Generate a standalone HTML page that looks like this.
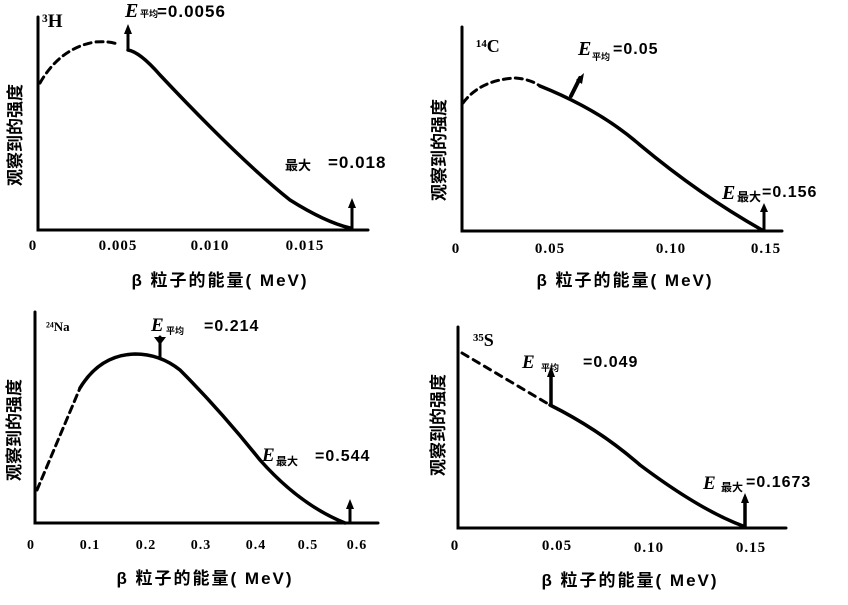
<!DOCTYPE html>
<html><head><meta charset="utf-8"><style>
html,body{margin:0;padding:0;background:#fff;}
svg{display:block}
text{font-family:"Liberation Serif","Noto Serif CJK SC",serif;font-weight:bold;fill:#000}
.c{font-family:"Liberation Sans","Noto Sans CJK SC",sans-serif;font-weight:bold}
.n{font-family:"Liberation Sans",sans-serif;font-weight:bold;letter-spacing:1px}
</style></head><body>
<svg width="848" height="605" viewBox="0 0 848 605" xmlns="http://www.w3.org/2000/svg">
<g fill="none" stroke="#000" stroke-linecap="round">
<path d="M38 17 V230 H368" stroke-width="3"/>
<path d="M40 83 Q60 48 95 42 Q110 41 117 44" stroke-width="3" stroke-dasharray="7,5"/>
<path d="M128 50 Q140 52 160 75 Q240 160 290 200 Q325 222 350 228" stroke-width="3.5"/>
<path d="M128 50 V30" stroke-width="3"/>
<path d="M352 228 V203" stroke-width="3"/>
<path d="M462 27 V231 H782" stroke-width="3"/>
<path d="M463 103 Q480 80 515 78 Q530 79 540 86" stroke-width="3" stroke-dasharray="7,5"/>
<path d="M540 86 Q600 110 640 145 Q700 195 762 230" stroke-width="3.5"/>
<path d="M571 96 L580 78" stroke-width="4"/>
<path d="M764 230 V208" stroke-width="3"/>
<path d="M35 312 V523 H378" stroke-width="3"/>
<path d="M37 490 L80 388" stroke-width="3" stroke-dasharray="7,5"/>
<path d="M80 388 Q100 355 135 354 Q160 354 180 370 Q220 410 260 460 Q300 505 345 523" stroke-width="3.5"/>
<path d="M160 358 V337" stroke-width="3"/>
<path d="M350 523 V505" stroke-width="3"/>
<path d="M458 327 V528 H786" stroke-width="3"/>
<path d="M462 353 L550 405" stroke-width="3" stroke-dasharray="7,6"/>
<path d="M550 405 Q600 430 640 465 Q700 510 743 526" stroke-width="3.5"/>
<path d="M551 405 V372" stroke-width="3.5"/>
<path d="M745 526 V498" stroke-width="3.5"/>
</g>
<g fill="#000">
<path d="M124 34 L128 24 L132 34Z"/><path d="M348 208 L352 198 L356 208Z"/>
<path d="M576 80 L584 73 L582 84Z"/><path d="M760 212 L764 203 L768 212Z"/>
<path d="M154 337 H166 L160 345Z"/><path d="M346 509 L350 499 L354 509Z"/>
<path d="M547 377 L551 366 L555 377Z"/><path d="M741 503 L745 493 L749 503Z"/>
</g>
<text x="42" y="27" font-size="19">³H</text>
<text x="125" y="17" font-size="20" font-style="italic">E</text><text x="140" y="17" font-size="9" class="c">平均</text><text x="157" y="17" font-size="17" class="n">=0.0056</text>
<text x="285" y="170" font-size="13" class="c">最大</text><text x="328" y="168" font-size="17" class="n">=0.018</text>
<g font-size="15" text-anchor="middle" class="n"><text x="33" y="250">0</text><text x="118" y="250">0.005</text><text x="210" y="250">0.010</text><text x="305" y="250">0.015</text></g>
<text x="220" y="286" font-size="17" text-anchor="middle" class="c" letter-spacing="2">β 粒子的能量(  MeV)</text>
<text font-size="17" class="c" transform="translate(21,135) rotate(-90)" text-anchor="middle">观察到的强度</text>
<text x="476" y="52" font-size="18">¹⁴C</text>
<text x="578" y="55" font-size="20" font-style="italic">E</text><text x="592" y="60" font-size="9" class="c">平均</text><text x="613" y="54" font-size="16" class="n">=0.05</text>
<text x="722" y="199" font-size="20" font-style="italic">E</text><text x="737" y="201" font-size="12" class="c">最大</text><text x="762" y="197" font-size="16" class="n">=0.156</text>
<g font-size="15" text-anchor="middle" class="n"><text x="456" y="253">0</text><text x="550" y="253">0.05</text><text x="671" y="253">0.10</text><text x="766" y="253">0.15</text></g>
<text x="625" y="286" font-size="17" text-anchor="middle" class="c" letter-spacing="2">β 粒子的能量(  MeV)</text>
<text font-size="17" class="c" transform="translate(445,150) rotate(-90)" text-anchor="middle">观察到的强度</text>
<text x="46" y="331" font-size="13">²⁴Na</text>
<text x="151" y="331" font-size="19" font-style="italic">E</text><text x="166" y="334" font-size="9" class="c">平均</text><text x="204" y="331" font-size="16" class="n">=0.214</text>
<text x="262" y="461" font-size="19" font-style="italic">E</text><text x="276" y="465" font-size="11" class="c">最大</text><text x="315" y="461" font-size="16" class="n">=0.544</text>
<g font-size="14" text-anchor="middle" class="n"><text x="31" y="549">0</text><text x="90" y="549">0.1</text><text x="146" y="549">0.2</text><text x="201" y="549">0.3</text><text x="256" y="549">0.4</text><text x="308" y="549">0.5</text><text x="357" y="549">0.6</text></g>
<text x="205" y="584" font-size="17" text-anchor="middle" class="c" letter-spacing="2">β 粒子的能量(  MeV)</text>
<text font-size="17" class="c" transform="translate(20,430) rotate(-90)" text-anchor="middle">观察到的强度</text>
<text x="473" y="346" font-size="18">³⁵S</text>
<text x="522" y="368" font-size="19" font-style="italic">E</text><text x="541" y="371" font-size="9" class="c">平均</text><text x="583" y="367" font-size="16" class="n">=0.049</text>
<text x="703" y="489" font-size="19" font-style="italic">E</text><text x="721" y="491" font-size="11" class="c">最大</text><text x="746" y="487" font-size="16" class="n">=0.1673</text>
<g font-size="15" text-anchor="middle" class="n"><text x="455" y="550">0</text><text x="557" y="550">0.05</text><text x="649" y="552">0.10</text><text x="751" y="552">0.15</text></g>
<text x="630" y="586" font-size="17" text-anchor="middle" class="c" letter-spacing="2">β 粒子的能量(  MeV)</text>
<text font-size="17" class="c" transform="translate(444,425) rotate(-90)" text-anchor="middle">观察到的强度</text>
</svg>
</body></html>
